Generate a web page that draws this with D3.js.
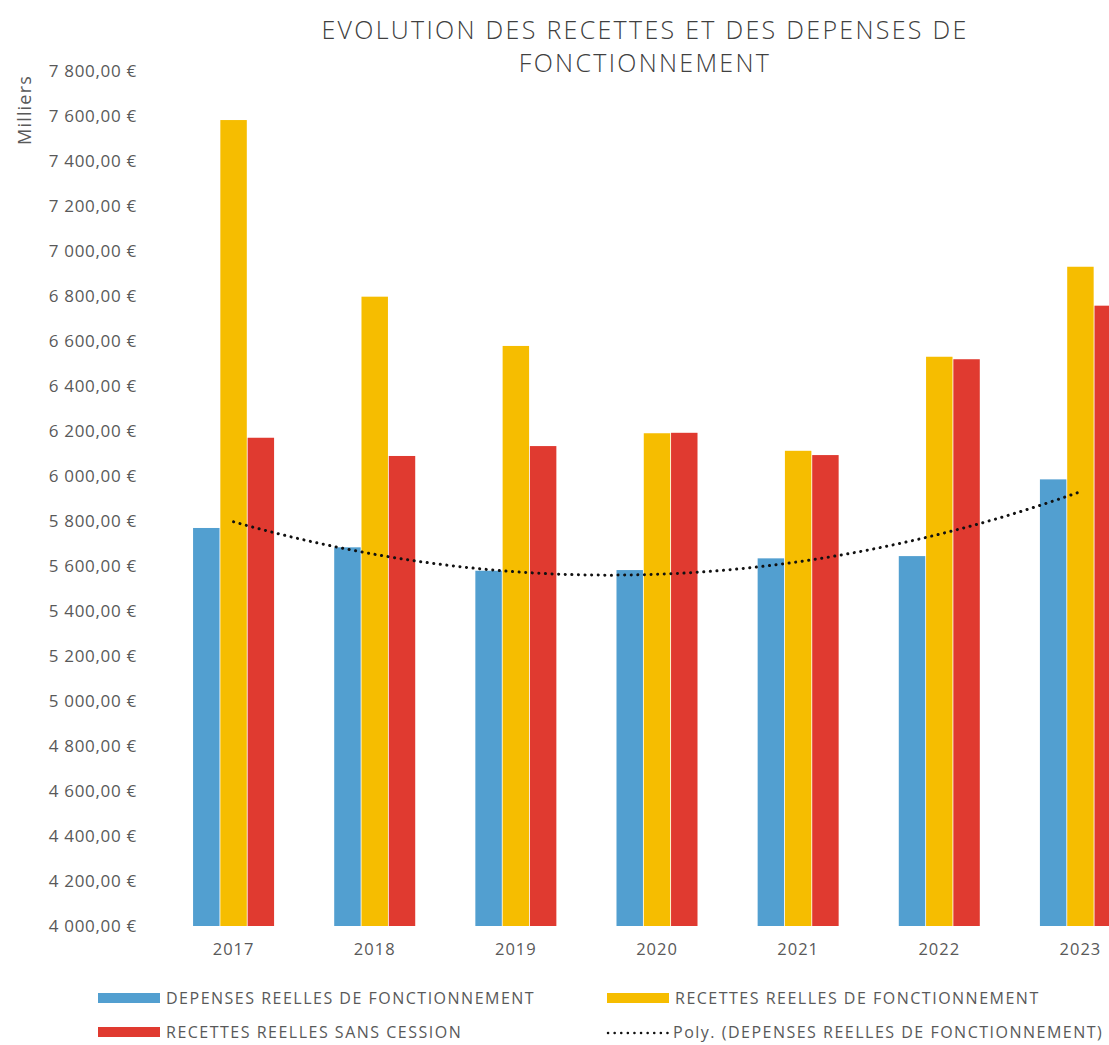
<!DOCTYPE html>
<html>
<head>
<meta charset="utf-8">
<script src="https://cdn.jsdelivr.net/npm/d3@7"></script>
<style>
  body { margin: 0; background: #fff; }
  text { font-family: "Open Sans", sans-serif; fill: #595959; }
</style>
</head>
<body>
<div id="chart"></div>
<script>
// data (milliers d'euros)
const years = ["2017", "2018", "2019", "2020", "2021", "2022", "2023"];
const seriesNames = [
  "DEPENSES REELLES DE FONCTIONNEMENT",
  "RECETTES REELLES DE FONCTIONNEMENT",
  "RECETTES REELLES SANS CESSION"
];
const depenses = [5769, 5683, 5579, 5582, 5634, 5644, 5985];
const recettes = [7582, 6797, 6578, 6190, 6112, 6530, 6930];
const recettesSansCession = [6170, 6089, 6133, 6192, 6093, 6519, 6757];
const yTicks = [4000, 4200, 4400, 4600, 4800, 5000, 5200, 5400, 5600, 5800, 6000, 6200, 6400, 6600, 6800, 7000, 7200, 7400, 7600, 7800];
const colors = ["#529fd0", "#f6bd00", "#e03a30"];

const width = 1109;
const height = 1045;

const svg = d3.select("#chart").append("svg")
  .attr("width", width)
  .attr("height", height);

const x = d3.scaleBand()
  .domain(years)
  .range([163, 1151])
  .paddingInner(0.426)
  .paddingOuter(0.213);

const xInner = d3.scaleBand()
  .domain(d3.range(seriesNames.length))
  .range([0, x.bandwidth()])
  .paddingInner(0.03);

const y = d3.scaleLinear()
  .domain([4000, 7800])
  .range([926, 71]);

const allSeries = [depenses, recettes, recettesSansCession];
const rows = years.map((yr, i) => ({ year: yr, values: allSeries.map(s => s[i]) }));

// title
const titleLines = ["EVOLUTION DES RECETTES ET DES DEPENSES DE", "FONCTIONNEMENT"];
svg.append("g").selectAll("text")
  .data(titleLines)
  .join("text")
  .attr("x", 645)
  .attr("y", (d, i) => 39 + i * 33)
  .attr("text-anchor", "middle")
  .attr("font-size", 25)
  .attr("font-weight", 300)
  .attr("letter-spacing", 2.3)
  .style("fill", "#404040")
  .text(d => d);

// y axis
const fmt = v => d3.format(",.2f")(v).replace(",", " ").replace(".", ",") + " €";
const yAxis = svg.append("g")
  .attr("transform", "translate(140,0)")
  .call(d3.axisLeft(y).tickValues(yTicks).tickSize(0).tickPadding(3).tickFormat(fmt));
yAxis.select(".domain").remove();
yAxis.selectAll("text")
  .attr("font-size", 17)
  .attr("letter-spacing", 0.7)
  .attr("font-family", "Open Sans, sans-serif")
  .style("fill", "#595959");

svg.append("text")
  .attr("transform", "translate(31,110) rotate(-90)")
  .attr("text-anchor", "middle")
  .attr("font-size", 18)
  .attr("letter-spacing", 1.2)
  .text("Milliers");

// bars
const groups = svg.append("g").selectAll("g")
  .data(rows)
  .join("g")
  .attr("transform", d => `translate(${x(d.year)},0)`);

groups.selectAll("rect")
  .data(d => d.values.map((v, k) => ({ k, v })))
  .join("rect")
  .attr("x", d => xInner(d.k))
  .attr("width", xInner.bandwidth())
  .attr("y", d => y(d.v))
  .attr("height", d => y(4000) - y(d.v))
  .attr("fill", d => colors[d.k]);

// x axis labels
const xAxis = svg.append("g")
  .attr("transform", "translate(0,940)")
  .call(d3.axisBottom(x).tickSize(0).tickPadding(3));
xAxis.select(".domain").remove();
xAxis.selectAll("text")
  .attr("font-size", 16.5)
  .attr("letter-spacing", 1)
  .attr("font-family", "Open Sans, sans-serif")
  .style("fill", "#595959");

// polynomial trend (order 2, least squares) on depenses
const n = depenses.length;
const xs = d3.range(n).map(i => i - (n - 1) / 2);
const meanY = d3.mean(depenses);
const b = d3.sum(xs, (xi, i) => xi * depenses[i]) / d3.sum(xs, xi => xi * xi);
const meanX2 = d3.mean(xs, xi => xi * xi);
const c = d3.sum(xs, (xi, i) => (xi * xi - meanX2) * depenses[i]) / d3.sum(xs, xi => (xi * xi - meanX2) ** 2);
const fit = t => meanY + b * t + c * (t * t - meanX2);

const trendPts = d3.range(0, n - 1 + 0.001, 0.05).map(t => {
  const xi = t - (n - 1) / 2;
  const px = x(years[0]) + x.bandwidth() / 2 + t * x.step();
  return [px, y(fit(xi))];
});
svg.append("path")
  .attr("d", d3.line()(trendPts))
  .attr("fill", "none")
  .attr("stroke", "#111")
  .attr("stroke-width", 3)
  .attr("stroke-linecap", "round")
  .attr("stroke-dasharray", "0.1 6.5");

// legend
const legend = [
  { label: seriesNames[0], color: colors[0], x: 98, y: 998, type: "rect" },
  { label: seriesNames[1], color: colors[1], x: 607, y: 998, type: "rect" },
  { label: seriesNames[2], color: colors[2], x: 98, y: 1032, type: "rect" },
  { label: "Poly. (DEPENSES REELLES DE FONCTIONNEMENT)", color: "#111", x: 607, y: 1032, type: "line" }
];
const lg = svg.append("g").selectAll("g")
  .data(legend)
  .join("g")
  .attr("transform", d => `translate(${d.x},${d.y})`);
lg.filter(d => d.type === "rect").append("rect")
  .attr("x", 0).attr("y", -5).attr("width", 62).attr("height", 10)
  .attr("fill", d => d.color);
lg.filter(d => d.type === "line").append("line")
  .attr("x1", 1).attr("x2", 61).attr("y1", 1).attr("y2", 1)
  .attr("stroke", "#111").attr("stroke-width", 2.5)
  .attr("stroke-linecap", "round")
  .attr("stroke-dasharray", "0.1 6.5");
lg.append("text")
  .attr("x", d => d.type === "line" ? 66 : 68).attr("y", 0)
  .attr("dy", "0.35em")
  .attr("font-size", 16)
  .attr("letter-spacing", 1.5)
  .text(d => d.label);
</script>
</body>
</html>
